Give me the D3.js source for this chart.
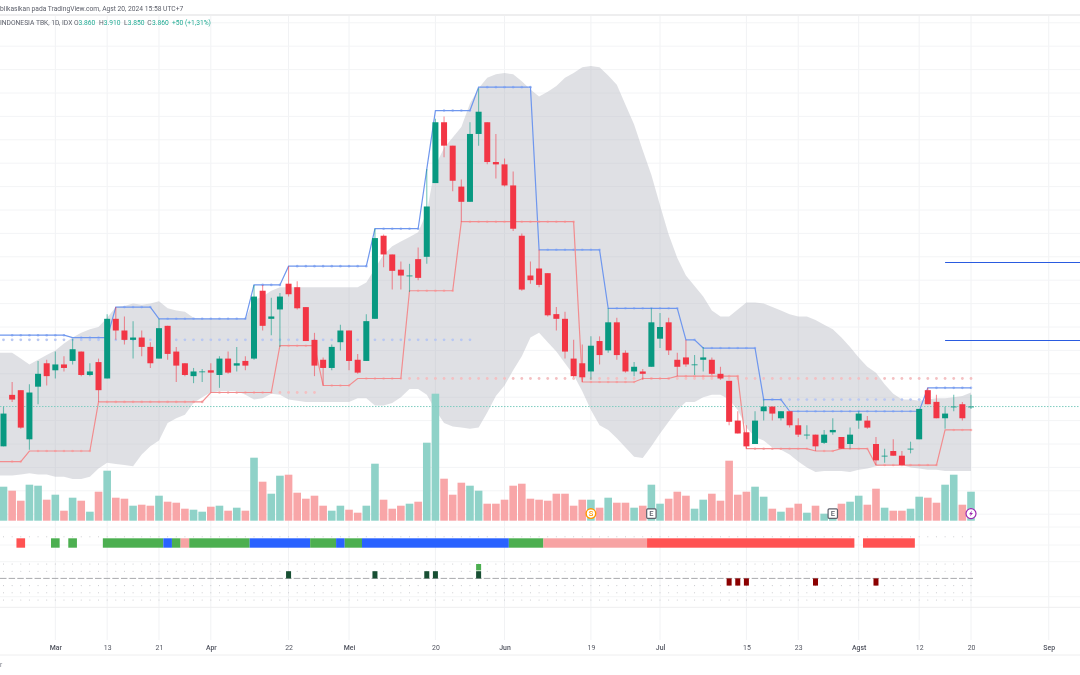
<!DOCTYPE html>
<html>
<head>
<meta charset="utf-8">
<script src="https://cdn.jsdelivr.net/npm/d3@7"></script>
<style>
  body { margin: 0; background: #fff; }
  svg { filter: blur(0.3px); }
  text { font-family: Roboto, "Noto Sans", sans-serif; }
</style>
</head>
<body>
<svg id="chart" width="1080" height="675"></svg>
<script>
var opens = [3690,3910,3930,3720,3945,4045,4015,4040,4055,4095,3995,4050,3980,4235,4185,4145,4155,4115,4065,4205,4095,4045,3990,4010,4015,3995,4065,4035,4055,4065,4355,4235,4275,4385,4370,4285,4145,4060,4025,4135,4185,4060,4055,4235,4590,4510,4445,4420,4490,4500,4815,5075,4975,4800,4735,5025,5075,4905,4895,4805,4590,4420,4450,4430,4255,4235,4065,4045,4010,4140,4100,4220,4090,4010,4010,4030,4150,4220,4060,4070,4040,4060,4060,4000,3970,3800,3750,3700,3840,3860,3810,3840,3780,3740,3740,3705,3750,3730,3700,3800,3800,3700,3650,3670,3650,3680,3720,3930,3880,3810,3860,3870,3860]
var highs = [3860,3965,3930,3955,4055,4060,4095,4075,4150,4095,4045,4065,4255,4285,4245,4225,4185,4135,4235,4205,4115,4045,4025,4020,4045,4075,4095,4115,4075,4380,4380,4325,4345,4460,4395,4285,4175,4070,4125,4210,4185,4085,4255,4620,4595,4510,4480,4470,4540,4875,5090,5100,4975,4830,5075,5220,5075,5025,4920,4865,4600,4480,4530,4430,4285,4265,4145,4125,4160,4160,4280,4240,4100,4050,4020,4280,4260,4240,4090,4145,4080,4115,4070,4030,3970,3840,3780,3840,3890,3860,3840,3840,3810,3780,3740,3760,3810,3730,3770,3840,3820,3730,3680,3720,3670,3710,3850,3940,3910,3860,3910,3880,3910]
var lows = [3690,3880,3765,3675,3870,3950,3980,4010,4040,3990,3990,3880,3980,4145,4125,4065,4075,4025,4065,4060,3965,3990,3960,3965,3920,3940,4000,4010,4015,4060,4185,4165,4115,4330,4275,4140,3990,3950,4015,4100,4015,4000,4055,4235,4455,4360,4360,4350,4400,4470,4815,4925,4780,4650,4735,4975,4895,4835,4800,4610,4355,4385,4370,4245,4185,4065,3985,3965,3975,4040,4090,4060,4005,3990,3975,4030,4110,4080,3990,4030,3995,4010,3995,3975,3780,3745,3680,3700,3800,3800,3800,3770,3730,3720,3670,3700,3740,3680,3680,3765,3765,3610,3620,3650,3610,3660,3720,3870,3810,3765,3840,3800,3850]
var closes = [3830,3890,3770,3920,4000,3990,4040,4025,4105,3995,4010,3930,4235,4185,4145,4155,4115,4045,4195,4085,4035,3995,4010,4010,4005,4065,4005,4045,4035,4330,4205,4245,4330,4340,4280,4140,4035,4025,4115,4185,4055,4005,4225,4580,4510,4440,4420,4420,4410,4715,5075,4975,4825,4735,5025,5120,4905,4895,4805,4620,4360,4400,4380,4250,4235,4095,3990,3985,4120,4080,4220,4080,4010,4030,4000,4220,4200,4100,4030,4040,4040,4070,4000,3980,3795,3745,3690,3800,3860,3830,3840,3780,3740,3740,3690,3740,3760,3680,3740,3830,3770,3630,3650,3650,3610,3680,3850,3870,3810,3830,3860,3810,3860]

var volumes = [34,30,20,36,35,21,26,10,23,20,9,29,50,23,22,15,16,15,25,19,18,12,11,9,14,15,10,13,10,63,39,27,45,46,28,22,25,15,10,15,11,8,15,57,21,12,15,17,19,78,127,42,26,38,35,30,17,17,21,35,37,22,21,20,27,27,15,21,21,13,23,18,18,13,15,36,17,22,29,25,12,21,27,20,60,26,29,34,24,12,9,13,17,8,15,7,8,17,19,25,16,32,13,10,10,12,24,23,18,36,46,16,29]

var bandUpper = [4090,4090,4065,4040,4060,4080,4100,4130,4155,4175,4190,4200,4240,4285,4290,4300,4295,4300,4310,4280,4270,4265,4240,4235,4235,4235,4235,4235,4235,4315,4330,4355,4370,4370,4370,4370,4370,4370,4370,4370,4370,4370,4390,4450,4510,4545,4565,4585,4605,4690,4890,4965,5010,5055,5155,5220,5265,5280,5285,5280,5250,5215,5185,5205,5230,5265,5285,5310,5315,5310,5275,5235,5150,5065,4955,4850,4720,4595,4495,4420,4375,4330,4270,4245,4245,4275,4305,4305,4300,4285,4270,4255,4245,4245,4230,4210,4190,4155,4115,4070,4030,4005,3955,3915,3890,3890,3885,3890,3895,3895,3900,3905,3920]
var bandLower = [3565,3565,3570,3575,3570,3570,3560,3560,3550,3550,3560,3595,3620,3615,3610,3605,3655,3690,3715,3790,3810,3825,3875,3900,3920,3925,3925,3925,3910,3890,3895,3915,3910,3890,3885,3880,3880,3880,3880,3880,3880,3895,3895,3865,3865,3875,3900,3935,3935,3910,3845,3790,3775,3770,3765,3770,3835,3905,3950,4015,4075,4155,4175,4135,4095,4045,3995,3925,3845,3780,3760,3725,3685,3645,3640,3690,3745,3795,3845,3880,3880,3900,3910,3910,3890,3845,3770,3730,3715,3685,3675,3655,3625,3600,3580,3585,3585,3585,3580,3590,3595,3605,3610,3610,3610,3600,3595,3590,3590,3585,3585,3585,3585]

var channelHigh = [4165,4165,4165,4165,4165,4165,4165,4165,4155,4155,4155,4155,4155,4285,4285,4285,4285,4285,4235,4235,4235,4235,4235,4235,4235,4235,4235,4235,4235,4380,4380,4380,4380,4460,4460,4460,4460,4460,4460,4460,4460,4460,4460,4620,4620,4620,4620,4620,4620,4875,5125,5125,5125,5125,5125,5225,5225,5225,5225,5225,5225,5225,4530,4530,4530,4530,4530,4530,4530,4530,4280,4280,4280,4280,4280,4280,4280,4280,4280,4145,4145,4110,4110,4110,4110,4110,4110,4110,3890,3890,3890,3840,3840,3840,3840,3840,3840,3840,3840,3840,3840,3840,3840,3840,3840,3840,3840,3940,3940,3940,3940,3940,3940]
var channelLow = [3625,3625,3625,3670,3670,3670,3670,3670,3670,3670,3670,3880,3880,3880,3880,3880,3880,3880,3880,3880,3880,3880,3880,3880,3920,3920,3920,3920,3920,3920,3920,3920,4120,4120,4120,4120,4120,3950,3950,3950,3950,3980,3980,3980,3980,3980,3980,4355,4355,4355,4355,4355,4355,4650,4650,4650,4650,4650,4650,4650,4650,4650,4650,4650,4650,4650,4650,3965,3965,3965,3965,3965,3965,3965,3980,3980,3980,3980,3990,3990,3990,3990,3990,3990,3990,3990,3680,3680,3680,3680,3680,3680,3680,3680,3670,3670,3670,3680,3680,3680,3680,3610,3610,3610,3610,3610,3610,3610,3610,3760,3760,3760,3760]

// dotted levels: price, first bar, last bar
var dotPrices = [4145, 3890, 3980, 3920]
var dotFrom = [0, 88, 47, 32]
var dotTo = [54, 106, 112, 36]
var dotKinds = ["up", "up", "down", "down"]

var levelPrices = [4478, 4145]
var levelFromBar = 109
var lastClose = 3860
var gridPrices = [5500,5400,5300,5200,5100,5000,4900,4800,4700,4600,4500,4400,4300,4200,4100,4000,3900,3800,3700,3600,3500,3400]

var tickBars = [6,12,18,24,33,40,50,58,68,76,86,92,99,106,112,121]
var tickLabels = ["Mar","13","21","Apr","22","Mei","20","Jun","19","Jul","15","23","Agst","12","20","Sep"]

var stateFrom = [2,6,8,12,19,20,21,22,29,36,39,40,42,59,63,75,100]
var stateTo = [2,6,8,18,19,20,21,28,35,38,39,41,58,62,74,98,105]
var stateNames = ["bear","bull","bull","bull","top","bull","weak","bull","top","bull","top","bull","top","bull","weak","bear","bear"]

var buySignal = [33,43,49,50,55]
var strongBuySignal = [55]
var sellSignal = [84,85,86,94,101]
var dotLevels = [2,1,-1,-2,-3]

var width = 1080
var height = 675
var green = "#089981"
var red = "#F23645"
var stateColor = d3.scaleOrdinal()
  .domain(["bull","top","weak","bear"])
  .range(["#4CAF50","#2962FF","#F7A3A3","#FF5252"])

var svg = d3.select("#chart")

var x = d3.scaleLinear().domain([0, 112]).range([3.5, 971])
var y = d3.scaleLinear().domain([3800, 5400]).range([420.6, 46.2])
var yVol = d3.scaleLinear().domain([0, 130]).range([520.7, 390.7])
var ySig = d3.scaleLinear().domain([-3, 2]).range([600, 564])

var bars = d3.range(opens.length)
// the series run off the left edge of the picture
var barsFromEdge = [-1].concat(bars)
function at(values, i) { return values[Math.max(i, 0)] }

function isUp(i) { return closes[i] >= opens[i] }

// grid
svg.append("g").selectAll("line").data(tickBars).enter().append("line")
  .attr("x1", d => x(d)).attr("x2", d => x(d))
  .attr("y1", 16).attr("y2", 640)
  .attr("stroke", "#f1f2f4").attr("stroke-width", 1)

svg.append("g").selectAll("line").data(gridPrices).enter().append("line")
  .attr("x1", 0).attr("x2", width)
  .attr("y1", d => y(d)).attr("y2", d => y(d))
  .attr("stroke", "#f3f4f6").attr("stroke-width", 1)

// pane separators
svg.append("g").selectAll("line").data([15, 527, 545, 561.7, 596.7, 607.3, 655]).enter().append("line")
  .attr("x1", 0).attr("x2", width)
  .attr("y1", d => d).attr("y2", d => d)
  .attr("stroke", d => (d == 15 || d == 607.3 || d == 655) ? "#eeeeef" : "#f4f5f6")
  .attr("stroke-width", d => d == 15 ? 2 : 1)

// band
var band = d3.area()
  .x(i => x(i))
  .y0(i => y(at(bandLower, i)))
  .y1(i => y(at(bandUpper, i)))
svg.append("path").datum(barsFromEdge)
  .attr("d", band)
  .attr("fill", "#b2b5be").attr("fill-opacity", 0.42)

// volume
svg.append("g").selectAll("rect").data(bars).enter().append("rect")
  .attr("x", i => x(i) - 3.8)
  .attr("width", 7.6)
  .attr("y", i => yVol(volumes[i]))
  .attr("height", i => yVol(0) - yVol(volumes[i]))
  .attr("fill", i => isUp(i) ? "#8fd2c8" : "#f8a6a8")

// dotted levels
dotPrices.forEach(function (p, k) {
  svg.append("g").selectAll("circle").data(d3.range(dotFrom[k], dotTo[k] + 1)).enter().append("circle")
    .attr("cx", i => x(i)).attr("cy", y(p)).attr("r", 1.4)
    .attr("fill", dotKinds[k] == "up" ? "#b9c8f2" : "#f4c0c2")
})

// flat parts of the channel carry small dots
function flatBars(values) {
  return bars.filter(i => i > 0 && values[i] == values[i - 1])
}
svg.append("g").selectAll("circle").data(flatBars(channelHigh)).enter().append("circle")
  .attr("cx", i => x(i)).attr("cy", i => y(channelHigh[i])).attr("r", 1.3)
  .attr("fill", "#a9bff5")
svg.append("g").selectAll("circle").data(flatBars(channelLow)).enter().append("circle")
  .attr("cx", i => x(i)).attr("cy", i => y(channelLow[i])).attr("r", 1.3)
  .attr("fill", "#f7b4b4")

// channel lines
var lineHigh = d3.line().x(i => x(i)).y(i => y(at(channelHigh, i)))
var lineLow = d3.line().x(i => x(i)).y(i => y(at(channelLow, i)))
svg.append("path").datum(barsFromEdge).attr("d", lineHigh)
  .attr("fill", "none").attr("stroke", "#6f97ee").attr("stroke-width", 1.2)
svg.append("path").datum(barsFromEdge).attr("d", lineLow)
  .attr("fill", "none").attr("stroke", "#f28d8f").attr("stroke-width", 1.2)

// last price line
svg.append("line")
  .attr("x1", 0).attr("x2", width)
  .attr("y1", y(lastClose)).attr("y2", y(lastClose))
  .attr("stroke", "#7fcdc0").attr("stroke-width", 1).attr("stroke-dasharray", "1.5 1.5")

// drawn levels
svg.append("g").selectAll("line").data(levelPrices).enter().append("line")
  .attr("x1", x(levelFromBar)).attr("x2", width)
  .attr("y1", d => Math.round(y(d)) + 0.5).attr("y2", d => Math.round(y(d)) + 0.5)
  .attr("stroke", "#2a5be0").attr("stroke-width", 1)

// candles
var candles = svg.append("g")
candles.selectAll("line").data(bars).enter().append("line")
  .attr("x1", i => x(i)).attr("x2", i => x(i))
  .attr("y1", i => y(highs[i])).attr("y2", i => y(lows[i]))
  .attr("stroke", i => isUp(i) ? green : red)
  .attr("stroke-opacity", 0.55).attr("stroke-width", 1.1)
candles.selectAll("rect").data(bars).enter().append("rect")
  .attr("x", i => x(i) - 3)
  .attr("width", 6)
  .attr("y", i => y(Math.max(opens[i], closes[i])))
  .attr("height", i => Math.max(0.8, Math.abs(y(opens[i]) - y(closes[i]))))
  .attr("fill", i => isUp(i) ? green : red)

// event markers on the volume pane
var markers = svg.append("g")
var mS = markers.append("g").attr("transform", "translate(" + x(68) + ",513.6)")
mS.append("circle").attr("r", 4.8).attr("fill", "#fff").attr("stroke", "#ff9800").attr("stroke-width", 1.4)
mS.append("text").attr("text-anchor", "middle").attr("y", 2.6).attr("font-size", 7.5).attr("font-weight", 500).attr("fill", "#ff9800").text("S")
;[75, 96].forEach(function (b) {
  var m = markers.append("g").attr("transform", "translate(" + x(b) + ",513.6)")
  m.append("rect").attr("x", -4.7).attr("y", -4.7).attr("width", 9.4).attr("height", 9.4).attr("rx", 1)
    .attr("fill", "#fff").attr("stroke", "#5d606b").attr("stroke-width", 1.2)
  m.append("text").attr("text-anchor", "middle").attr("y", 2.6).attr("font-size", 7.5).attr("font-weight", 500).attr("fill", "#5d606b").text("E")
})
var mF = markers.append("g").attr("transform", "translate(" + x(112) + ",513.6)")
mF.append("circle").attr("r", 5).attr("fill", "#fff").attr("stroke", "#9c27b0").attr("stroke-width", 1.2)
mF.append("path").attr("d", "M1,-3L-2,0.6H-0.2L-1,3L2,-0.6H0.2Z").attr("fill", "#9c27b0")

// state strip and dots above it
svg.append("g").selectAll("circle").data(bars).enter().append("circle")
  .attr("cx", i => x(i)).attr("cy", 536.7).attr("r", 0.55).attr("fill", "#c4c5c9")
svg.append("g").selectAll("rect").data(d3.range(stateFrom.length)).enter().append("rect")
  .attr("x", k => x(stateFrom[k] - 0.5))
  .attr("width", k => x(stateTo[k] + 0.5) - x(stateFrom[k] - 0.5))
  .attr("y", 538.3).attr("height", 9.4)
  .attr("fill", k => stateColor(stateNames[k]))

// signal pane
dotLevels.forEach(function (v) {
  svg.append("g").selectAll("circle").data(bars).enter().append("circle")
    .attr("cx", i => x(i)).attr("cy", ySig(v)).attr("r", 0.55).attr("fill", "#c4c5c9")
})
svg.append("line")
  .attr("x1", 0).attr("x2", x(112) + 2)
  .attr("y1", ySig(0)).attr("y2", ySig(0))
  .attr("stroke", "#a8a9ad").attr("stroke-width", 1).attr("stroke-dasharray", "6.5 2.14")
svg.append("g").selectAll("rect").data(buySignal).enter().append("rect")
  .attr("x", i => x(i) - 2.5).attr("width", 5)
  .attr("y", ySig(1)).attr("height", ySig(0) - ySig(1))
  .attr("fill", "#174f33")
svg.append("g").selectAll("rect").data(strongBuySignal).enter().append("rect")
  .attr("x", i => x(i) - 2.5).attr("width", 5)
  .attr("y", ySig(2)).attr("height", ySig(1) - ySig(2) - 0.8)
  .attr("fill", "#4CAF50")
svg.append("g").selectAll("rect").data(sellSignal).enter().append("rect")
  .attr("x", i => x(i) - 2.5).attr("width", 5)
  .attr("y", ySig(0)).attr("height", ySig(-1) - ySig(0))
  .attr("fill", "#8b0000")

// time axis
var axis = d3.axisBottom(x)
  .tickValues(tickBars)
  .tickSize(0)
  .tickPadding(0)
  .tickFormat((d, i) => tickLabels[i])
var axisG = svg.append("g").attr("transform", "translate(0,644.7)").call(axis)
axisG.select(".domain").remove()
axisG.selectAll("text")
  .attr("font-family", "Roboto, sans-serif")
  .attr("font-size", 6.9)
  .attr("font-weight", (d, i) => isNaN(+tickLabels[i]) ? 500 : 400)
  .attr("fill", "#50535e")

// header text
var fontSize = 6.7
svg.append("text").attr("x", 0).attr("y", 10.7)
  .attr("font-size", fontSize).attr("fill", "#5d606b")
  .text("blikasikan pada TradingView.com, Agst 20, 2024 15:58 UTC+7")
svg.append("text").attr("x", 0).attr("y", 25.4)
  .attr("font-size", fontSize).attr("fill", "#5d606b")
  .text("INDONESIA TBK, 1D, IDX")

var legendLabels = ["O", "H", "L", "C"]
var legendValues = ["3.860", "3.910", "3.850", "3.860"]
var legendLabelX = [74, 99, 124, 147.3]
var legendValueX = [78.5, 103.7, 127.7, 152]
legendLabels.forEach(function (t, k) {
  svg.append("text").attr("x", legendLabelX[k]).attr("y", 25.4).attr("font-size", fontSize).attr("fill", "#5d606b").text(t)
  svg.append("text").attr("x", legendValueX[k]).attr("y", 25.4).attr("font-size", fontSize).attr("fill", "#22ab94").text(legendValues[k])
})
svg.append("text").attr("x", 172).attr("y", 25.4).attr("font-size", fontSize).attr("fill", "#22ab94").text("+50 (+1,31%)")
svg.append("text").attr("x", 0).attr("y", 667).attr("font-size", fontSize).attr("fill", "#787b86").text("r")
</script>
</body>
</html>
